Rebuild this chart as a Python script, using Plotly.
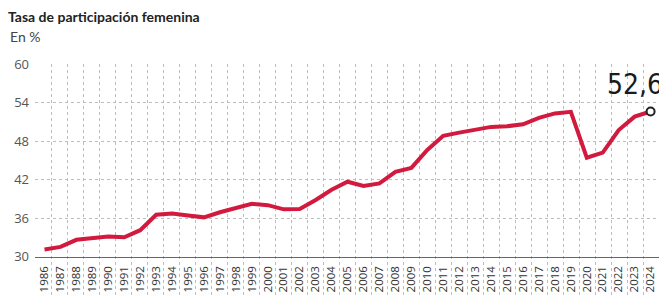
import plotly.graph_objects as go

years = list(range(1986, 2025))
rate = [31.1, 31.5, 32.6, 32.8, 33.1, 33.0, 34.1, 36.5, 36.7, 36.4,
        36.1, 36.9, 37.6, 38.2, 38.0, 37.35, 37.4, 38.8, 40.4, 41.65,
        41.0, 41.4, 43.2, 43.8, 46.6, 48.8, 49.3, 49.8, 50.2, 50.3,
        50.6, 51.6, 52.3, 52.55, 45.4, 46.2, 49.7, 51.8, 52.6]
y_ticks = [30, 36, 42, 48, 54, 60]
grid_between = [y + 0.5 for y in years]
title_text = "<b>Tasa de participación femenina</b>"
unit_text = "En %"
last_label = "52,6"

RED = "#d21a3f"
COND = ("Liberation Sans Narrow, Noto Sans ExtraCondensed, Noto Sans Condensed, "
        "DejaVu Sans Condensed, Roboto Condensed, Roboto, sans-serif")

W, H = 659, 288
ML, MR, MT, MB = 27, 6, 56, 0
PW, PH = W - ML - MR, H - MT - MB

fig = go.Figure()
fig.add_trace(go.Scatter(x=grid_between, y=[None] * len(grid_between),
                         xaxis="x", yaxis="y", mode="lines",
                         hoverinfo="skip", showlegend=False))
fig.add_trace(go.Scatter(x=years, y=rate, xaxis="x2", yaxis="y2", mode="lines",
                         line=dict(color=RED, width=4), showlegend=False))
fig.add_trace(go.Scatter(x=[years[-1]], y=[rate[-1]], xaxis="x2", yaxis="y2",
                         mode="markers",
                         marker=dict(size=8, color="white",
                                     line=dict(color="#222", width=2)),
                         showlegend=False))

fig.add_annotation(x=years[-1], y=rate[-1], xref="x2", yref="y2",
                   text=last_label, showarrow=False,
                   xanchor="right", yanchor="bottom", xshift=14, yshift=8,
                   font=dict(family=COND, size=28, color="#1a1a1a"))
fig.add_annotation(x=-ML / PW, y=(H - 29) / PH, xref="paper", yref="paper",
                   text=unit_text, showarrow=False, xanchor="left", yanchor="middle",
                   font=dict(family="Lato, sans-serif", size=14, color="#444"))

fig.update_layout(
    width=W, height=H,
    margin=dict(l=ML, r=MR, t=MT, b=MB),
    paper_bgcolor="white", plot_bgcolor="rgba(0,0,0,0)",
    title=dict(text=title_text, x=0.0, xanchor="left", xref="container",
               y=1 - 9 / H, yanchor="middle", yref="container", pad=dict(l=0),
               font=dict(family="Lato, sans-serif", size=14, color="#222")),
    xaxis=dict(domain=[0, 1], range=[1985.456, 2024.581], anchor="y",
               tickvals=grid_between, showticklabels=False, ticks="",
               showgrid=True, gridcolor="#bdbdbd", griddash="dot", gridwidth=1,
               zeroline=False, showline=False, fixedrange=True),
    yaxis=dict(domain=[0, 1], range=[0, 1], anchor="x", visible=False,
               showgrid=False, zeroline=False, fixedrange=True),
    xaxis2=dict(domain=[0, 1], range=[1985.404, 2024.652], anchor="y2",
                tickvals=years, ticktext=[str(y) for y in years],
                tickangle=-90, ticks="", ticklabelstandoff=4,
                tickfont=dict(family="Open Sans, sans-serif", size=11.5, color="#333"),
                showgrid=False, zeroline=False,
                showline=True, linecolor="#666", linewidth=1, automargin=False,
                fixedrange=True),
    yaxis2=dict(domain=[(H - 248.5) / PH, 1], range=[30, 60], anchor="x2",
                tickvals=y_ticks, ticks="", ticklabelstandoff=5,
                tickfont=dict(family="Open Sans, sans-serif", size=13, color="#555"),
                showgrid=True, gridcolor="#bdbdbd", griddash="dot", gridwidth=1,
                zeroline=False, showline=False, automargin=False, fixedrange=True),
)

fig.write_html("out.html")
